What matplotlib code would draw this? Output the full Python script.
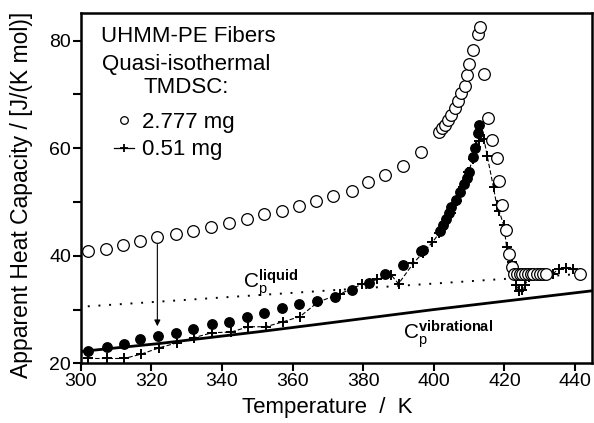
import matplotlib
matplotlib.use("Agg")
import matplotlib.pyplot as plt
from matplotlib.lines import Line2D

plt.rcParams['font.family'] = ['Liberation Sans', 'DejaVu Sans']
plt.rcParams['mathtext.fontset'] = 'custom'
plt.rcParams['mathtext.rm'] = 'Liberation Sans'
plt.rcParams['mathtext.it'] = 'Liberation Sans'
plt.rcParams['mathtext.bf'] = 'Liberation Sans:bold'

# Quasi-isothermal TMDSC, 2.777 mg sample (as measured)
T_big = [302.2, 307.2, 312.1, 316.8, 321.7, 326.9, 331.9, 336.9, 342.0, 347.0,
         352.0, 356.9, 361.8, 366.5, 371.5, 376.7, 381.4, 386.3, 391.4, 396.3,
         401.5, 402.2, 403.1, 404.1, 405.0, 406.0, 406.9, 407.7, 408.8, 409.5,
         410.0, 411.2, 412.4, 413.1, 414.3, 415.4, 416.6, 417.8, 418.5, 419.2,
         420.3, 421.3, 422.2, 422.8, 423.6, 424.4, 425.1, 425.9, 426.7, 427.4,
         428.1, 429.1, 430.0, 431.0, 431.7, 441.4]
cp_big = [40.8, 41.3, 42.0, 42.7, 43.4, 44.0, 44.7, 45.4, 46.1, 46.8,
          47.8, 48.4, 49.3, 50.2, 51.1, 52.1, 53.7, 55.0, 56.7, 59.3,
          63.1, 63.7, 64.3, 65.3, 66.2, 67.4, 68.7, 70.2, 71.6, 73.6,
          75.7, 78.3, 81.2, 82.5, 73.9, 65.6, 61.5, 58.1, 53.9, 49.4,
          44.8, 40.3, 37.9, 36.7, 36.6, 36.6, 36.6, 36.6, 36.6, 36.6,
          36.6, 36.7, 36.6, 36.6, 36.6, 36.6]

# 2.777 mg sample after correction
T_corr = [302.2, 307.4, 312.3, 316.8, 321.8, 326.9, 331.9, 337.1, 342.1, 347.2,
          351.9, 357.1, 361.8, 366.8, 372.0, 376.9, 381.7, 386.3, 391.4, 396.5,
          397.0, 401.7, 402.6, 403.5, 404.4, 405.0, 406.3, 407.5, 408.6, 409.5,
          409.9, 411.2, 411.6, 412.4, 412.9]
cp_corr = [22.3, 23.1, 23.6, 24.6, 25.1, 25.7, 26.4, 27.3, 27.7, 28.6,
           29.4, 30.2, 31.0, 31.6, 32.4, 33.7, 34.9, 36.6, 38.2, 40.8,
           41.1, 44.7, 45.7, 46.8, 47.9, 49.0, 50.3, 51.8, 53.3, 54.4,
           55.6, 58.4, 60.0, 62.8, 64.3]

# Quasi-isothermal TMDSC, 0.51 mg sample
T_small = [302.2, 307.4, 312.3, 317.1, 322.3, 327.2, 332.2, 337.3, 342.5, 347.5,
           352.4, 357.2, 362.1, 367.2, 373.4, 379.6, 384.0, 387.8, 390.0, 394.2,
           396.8, 399.6, 401.5, 403.0, 404.8, 406.5, 408.2, 409.8, 411.0, 411.8,
           412.8, 414.2, 415.1, 416.9, 417.8, 418.5, 419.8, 420.6, 422.0, 423.2,
           423.4, 424.2, 425.0, 425.8, 427.0, 428.5, 430.0, 432.4, 433.8, 435.5,
           437.3, 439.3, 441.4]
cp_small = [20.9, 20.9, 20.9, 21.7, 22.9, 23.8, 24.8, 25.7, 25.8, 26.8,
            26.8, 27.7, 28.7, 31.4, 32.9, 34.7, 35.6, 36.5, 34.8, 38.6,
            40.5, 42.5, 44.2, 46.0, 48.0, 50.2, 52.8, 55.5, 58.0, 60.2,
            61.3, 61.7, 58.6, 52.7, 49.4, 48.3, 45.7, 41.7, 38.9, 36.2,
            34.6, 33.4, 33.6, 34.6, 36.0, 36.4, 36.4, 36.4, 36.7, 37.6,
            37.8, 37.6, 36.8]

# Reference heat capacities
T_liquid = [302.0, 441.0]
cp_liquid = [30.6, 36.6]
T_vib = [300.0, 322.5, 350.8, 367.8, 400.0, 445.0]
cp_vib = [22.2, 23.7, 25.9, 27.3, 30.0, 33.5]

# Correction arrow (from measured to corrected value)
arrow_T = 321.7
arrow_cp = [42.1, 26.9]

fig = plt.figure(figsize=(5.94, 4.23), dpi=100)
ax = fig.add_axes([0.1359, 0.1411, 0.8608, 0.8275])

ax.plot(T_liquid, cp_liquid, ls=(0, (1, 4.5)), color='black', lw=1.4, zorder=1)
ax.plot(T_vib, cp_vib, ls='-', color='black', lw=2.0, zorder=1)

ax.plot(T_small, cp_small, ls=(0, (4, 2)), color='black', lw=0.8,
        marker='+', ms=7, mew=1.4, zorder=3)
ax.plot(T_corr, cp_corr, ls='none', marker='o', ms=6.8, mfc='black',
        mec='black', zorder=2)
ax.plot(T_big, cp_big, ls='none', marker='o', ms=8.4, mfc='white',
        mec='black', mew=0.9, zorder=4)

ax.annotate('', xy=(arrow_T, arrow_cp[1]), xytext=(arrow_T, arrow_cp[0]),
            arrowprops=dict(arrowstyle='-|>', color='black', lw=0.8,
                            mutation_scale=9, shrinkA=0, shrinkB=0))

ax.text(345.9, 34.1, r'$\mathrm{C}_{\mathrm{p}}^{\mathbf{liquid}}$',
        fontsize=15, ha='left', va='baseline')
ax.text(391.3, 24.6, r'$\mathrm{C}_{\mathrm{p}}^{\mathbf{vibrational}}$',
        fontsize=15, ha='left', va='baseline')

ax.text(0.04, 0.919, 'UHMM-PE Fibers', transform=ax.transAxes,
        fontsize=16, ha='left', va='baseline')
ax.text(0.206, 0.838, 'Quasi-isothermal', transform=ax.transAxes,
        fontsize=16, ha='center', va='baseline')
ax.text(0.206, 0.773, 'TMDSC:', transform=ax.transAxes,
        fontsize=16, ha='center', va='baseline')

handles = [Line2D([], [], ls='none', marker='o', ms=5.5, mfc='white',
                  mec='black', mew=0.9),
           Line2D([], [], ls='-', color='black', lw=0.9, marker='+', ms=6,
                  mew=1.3)]
ax.legend(handles, ['2.777 mg', '0.51 mg'], loc='upper left',
          bbox_to_anchor=(0.066, 0.719), frameon=False, fontsize=16,
          handlelength=0.9, handletextpad=0.35, labelspacing=0.3,
          borderpad=0, borderaxespad=0)

ax.set_xlim(300, 444.8)
ax.set_ylim(20, 85.1)
ax.set_xticks([300, 320, 340, 360, 380, 400, 420, 440])
ax.set_yticks([20, 40, 60, 80])
ax.set_yticks([30, 50, 70], minor=True)
ax.tick_params(axis='both', which='major', direction='out', length=5.5,
               width=1.5, labelsize=14, pad=1.5)
ax.tick_params(axis='y', which='minor', direction='out', length=5.5, width=1.5)
for s in ax.spines.values():
    s.set_linewidth(1.8)

ax.set_xlabel('Temperature  /  K', fontsize=16)
ax.xaxis.set_label_coords(0.483, -0.095)
ax.set_ylabel('Apparent Heat Capacity / [J/(K mol)]', fontsize=16.5)
ax.yaxis.set_label_coords(-0.093, 0.481)

fig.savefig('out.png', dpi=100)
